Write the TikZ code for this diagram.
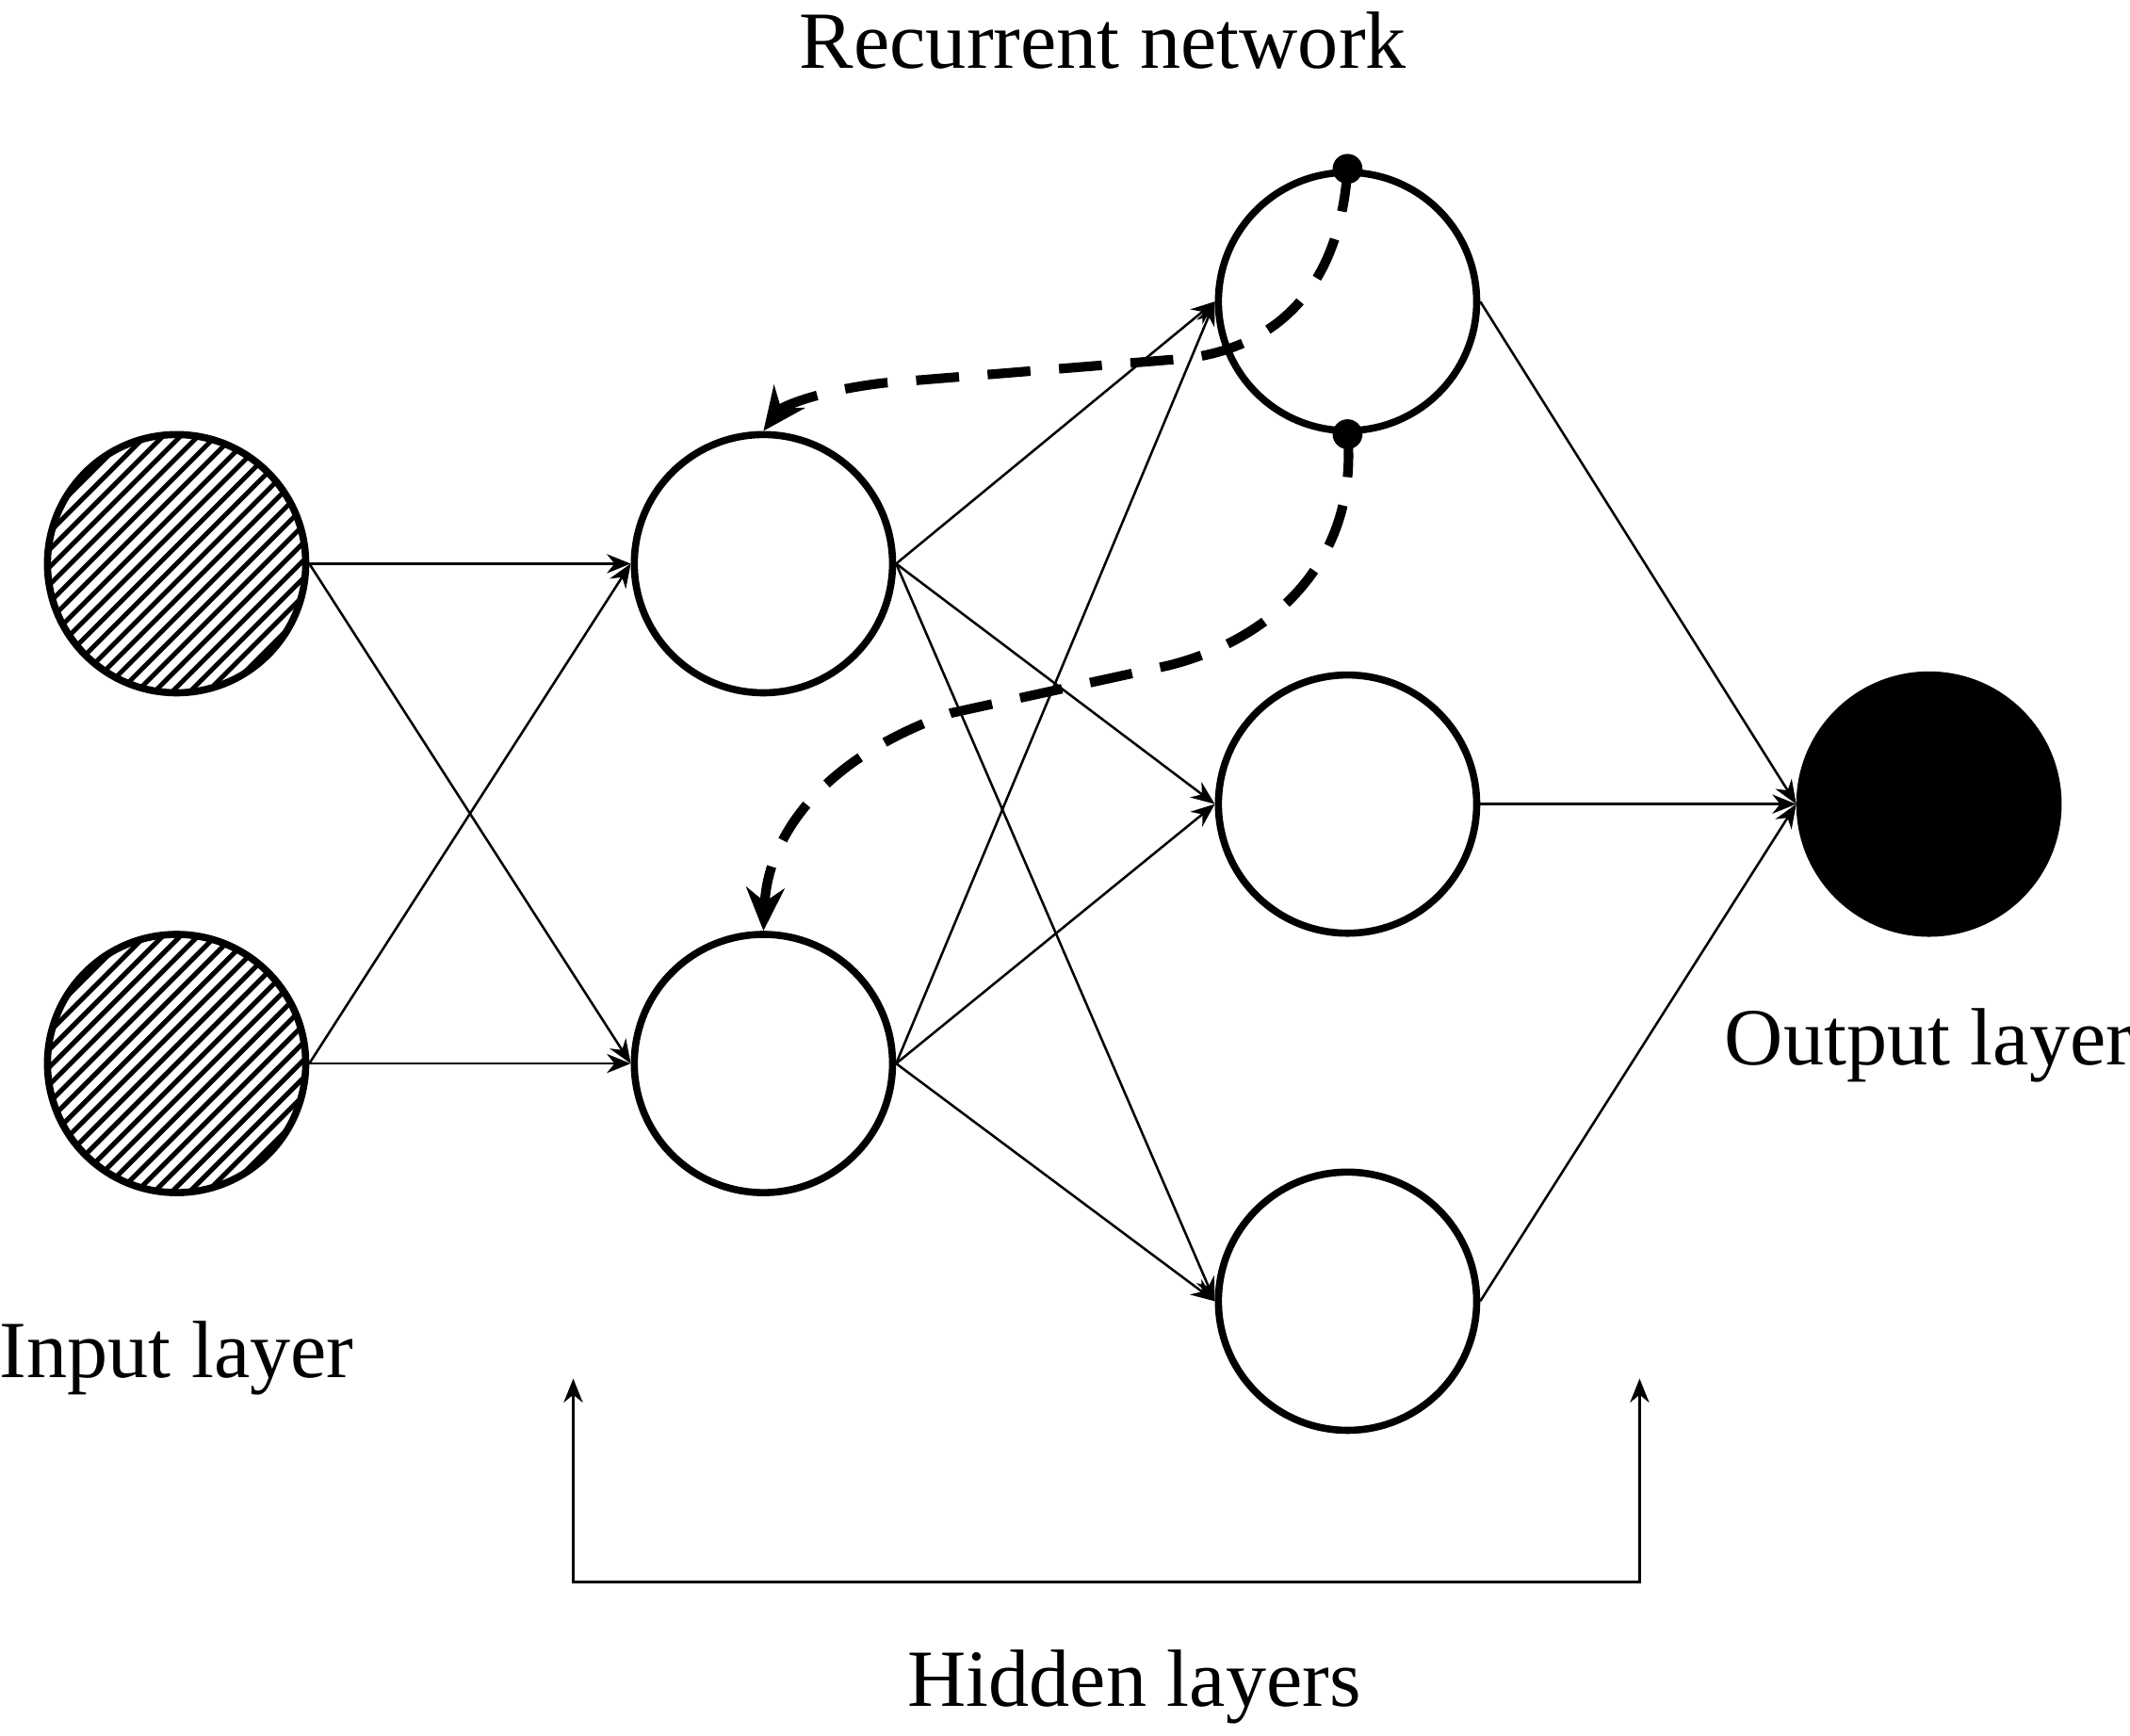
\documentclass[tikz,border=0pt]{standalone}
\usepackage{fontspec}
\setmainfont{Liberation Serif}
\usetikzlibrary{arrows.meta}
\begin{document}
\begin{tikzpicture}[x=0.01cm,y=-0.01cm,
  neuron/.style={circle,draw,line width=1.5pt,minimum size=1.9cm,inner sep=0pt},
  conn/.style={line width=0.5pt,-{Stealth[length=5pt,width=4pt]}},
  rec/.style={line width=2pt,dash pattern=on 9pt off 6pt,-{Stealth[length=9pt,width=8pt]}},
  lbl/.style={font=\fontsize{17}{20}\selectfont}]
\useasboundingbox (0,0) rectangle (1568,1278);
\foreach \n/\y in {I1/415,I2/783}{
  \begin{scope}
  \clip (130,\y) circle (0.96cm);
  \foreach \k in {-16,...,16} \draw[line width=1pt] (130-120+\k*13,\y+120) -- (130+120+\k*13,\y-120);
  \end{scope}
  \node[neuron] (\n) at (130,\y) {};
}
\node[neuron] (H1) at (562,415) {};
\node[neuron] (H2) at (562,783) {};
\node[neuron] (R1) at (992,222) {};
\node[neuron] (R2) at (992,592) {};
\node[neuron] (R3) at (992,958) {};
\node[neuron,fill=black] (O) at (1420,592) {};
\foreach \a in {I1,I2} \foreach \b in {H1,H2} \draw[conn] (\a.east) -- (\b.west);
\foreach \a in {H1,H2} \foreach \b in {R1,R2,R3} \draw[conn] (\a.east) -- (\b.west);
\foreach \a in {R1,R2,R3} \draw[conn] (\a.east) -- (O.west);
\fill (R1.north) circle (11);
\fill (R1.south) circle (11);
\draw[rec] (R1.north) .. controls (985,230) and (920,262) .. (860,265) -- (650,282) .. controls (600,288) and (575,300) .. (H1.north);
\draw[rec] (R1.south) .. controls (1000,410) and (940,470) .. (860,490) -- (700,525) .. controls (600,560) and (565,620) .. (H2.north);
\node[lbl] (t1) at (812,30) {Recurrent network};
\node[lbl] (t2) at (130,1000) {Input layer};
\node[lbl] (t3) at (1420,770) {Output layer};
\node[lbl] (t4) at (835,1242) {Hidden layers};
\coordinate (b1) at (422,1165);
\coordinate (b2) at (1207,1165);
\coordinate (a1) at (422,1015);
\coordinate (a2) at (1207,1015);
\draw[line width=0.6pt,{Stealth[length=5pt,width=4pt]}-{Stealth[length=5pt,width=4pt]}] (a1) -- (b1) -- (b2) -- (a2);
\end{tikzpicture}
\end{document}
